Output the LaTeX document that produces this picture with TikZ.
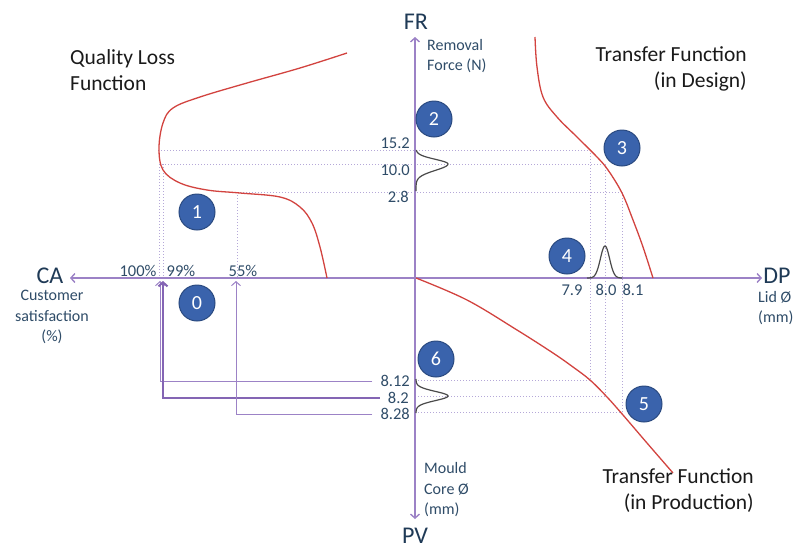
\documentclass[tikz,border=0pt]{standalone}
\usepackage{fontspec}
\setmainfont{Carlito}
\usetikzlibrary{arrows.meta}
\definecolor{axiscol}{HTML}{9C82C6}
\definecolor{axisdk}{HTML}{8465B4}
\definecolor{guidecol}{HTML}{B5A8D8}
\definecolor{curvecol}{HTML}{D2433F}
\definecolor{labcol}{HTML}{2F4C68}
\definecolor{axlabcol}{HTML}{1F3A56}
\definecolor{ballcol}{HTML}{3A63AC}
\definecolor{ballrim}{HTML}{2A4A80}
\definecolor{gausscol}{HTML}{4A4A4A}
\definecolor{titlecol}{HTML}{1A1A1A}
\begin{document}
\begin{tikzpicture}[x=1pt,y=-1pt,
  axisline/.style={draw=axiscol,line width=1.4pt},
  barb/.style={-{Straight Barb[length=4pt,width=9pt]}},
  guide/.style={draw=guidecol,line width=0.9pt,dash pattern=on 1pt off 2pt},
  feed/.style={draw=axiscol,line width=1pt},
  feedthick/.style={draw=axisdk,line width=2pt},
  redcurve/.style={draw=curvecol,line width=1.3pt},
  gaussline/.style={draw=gausscol,line width=1.2pt},
  ball/.style={circle,fill=ballcol,draw=ballrim,line width=1pt,minimum size=36pt,inner sep=0pt,text=white,font=\fontsize{20}{20}\selectfont},
  ticklab/.style={text=labcol,inner sep=0pt,font=\fontsize{16.5}{19}\selectfont},
  smalllab/.style={text=labcol,inner sep=0pt,font=\fontsize{16}{20.5}\selectfont},
  axlab/.style={text=axlabcol,inner sep=0pt,font=\fontsize{24}{24}\selectfont},
  title/.style={text=titlecol,inner sep=0pt,font=\fontsize{21.5}{26}\selectfont}
]
\useasboundingbox (0,0) rectangle (793,544);

% axes
\coordinate (O) at (415,278);
\coordinate (FRtip) at (415,37);
\coordinate (PVtip) at (415,519);
\coordinate (CAtip) at (70,278);
\coordinate (DPtip) at (762,278);

% dotted guides
\draw[guide] (158,150) -- (590,150);
\draw[guide] (162,164) -- (605,164);
\draw[guide] (237,192) -- (622,192);
\draw[guide] (159,164) -- (159,278);
\draw[guide] (163,164) -- (163,278);
\draw[guide] (237,192) -- (237,278);
\draw[guide] (590,150) -- (590,380);
\draw[guide] (605,164) -- (605,396);
\draw[guide] (622,192) -- (622,412);
\draw[guide] (415,380) -- (590,380);
\draw[guide] (415,396) -- (605,396);
\draw[guide] (415,412) -- (622,412);

% axes lines
\draw[axisline,barb] (O) -- (FRtip);
\draw[axisline,barb] (O) -- (PVtip);
\draw[axisline,barb] (O) -- (CAtip);
\draw[axisline,barb] (O) -- (DPtip);

% axis labels
\node[axlab] (FR) at (416,22) {FR};
\node[axlab] (PV) at (415,536) {PV};
\node[axlab] (CA) at (50,276) {CA};
\node[axlab] (DP) at (777,276) {DP};

\node[smalllab,align=left,anchor=west] (rf) at (427,56) {Removal\\Force (N)};
\node[smalllab,align=center] (cs) at (52,317) {Customer\\satisfaction\\(\%)};
\node[smalllab,align=left,anchor=west] (lid) at (758,308) {Lid Ø\\(mm)};
\node[smalllab,align=left,anchor=west] (mc) at (424,490) {Mould\\Core Ø\\(mm)};

% titles
\node[title,align=left,anchor=west] (qlf) at (70,70) {Quality Loss\\Function};
\node[title,align=right,anchor=east] (tfd) at (747,69) {Transfer Function\\(in Design)};

% tick labels
\node[ticklab,anchor=east] (t152) at (410,143) {15.2};
\node[ticklab,anchor=east] (t100) at (410,170) {10.0};
\node[ticklab,anchor=east] (t28) at (409,197) {2.8};
\node[ticklab] (p100) at (138,271) {100\%};
\node[ticklab] (p99) at (181,271) {99\%};
\node[ticklab] (p55) at (243,271) {55\%};
\node[ticklab] (d79) at (572,290) {7.9};
\node[ticklab] (d80) at (606,290) {8.0};
\node[ticklab] (d81) at (633,290) {8.1};
\node[ticklab,anchor=east] (m812) at (410,381) {8.12};
\node[ticklab,anchor=east] (m82) at (409,398) {8.2};
\node[ticklab,anchor=east] (m828) at (410,414) {8.28};

% feedback connectors to CA axis
\coordinate (a100) at (160,281);
\coordinate (a99) at (163,281);
\coordinate (a55) at (236,281);
\draw[feed,barb,shorten <=8pt] (m812.west) -| (a100);
\draw[feedthick,barb,shorten <=8pt] (m82.west) -| (a99);
\draw[feed,barb,shorten <=8pt] (m828.west) -| (a55);

% red curves
\draw[redcurve] plot[smooth,tension=0.6] coordinates {(347,53) (300,68) (247,83) (200,97) (173,108) (163,123) (159,148) (163,170) (180,183) (207,190) (240,193) (280,197) (300,207) (312,223) (320,247) (327,278)};
\draw[redcurve] plot[smooth,tension=0.6] coordinates {(535,37) (537,67) (543,97) (557,117) (577,137) (597,157) (608,170) (622,193) (633,220) (643,247) (653,278)};
\draw[redcurve] plot[smooth,tension=0.6] coordinates {(416,278) (467,300) (517,330) (553,353) (573,367) (590,380) (607,397) (623,415) (647,443) (673,473)};

\node[title,align=right,anchor=east] (tfp) at (754,491) {Transfer Function\\(in Production)};

% gaussians
\draw[gaussline] plot[domain=-14:0,samples=30,variable=\t] ({416+32*exp(-(\t/6.6)^2)},{164+\t})
  -- plot[domain=0:27,samples=40,variable=\t] ({416+32*exp(-(\t/9)^2)},{164+\t});
\draw[gaussline] plot[domain=-17:17,samples=50,variable=\t] ({416+32*exp(-(\t/6.5)^2)},{396+\t});
\draw[gaussline] plot[domain=-18:17,samples=50,variable=\t] ({605+\t},{278-32*exp(-(\t/6.5)^2)});

% numbered balls
\node[ball] (c0) at (197,303) {0};
\node[ball] (c1) at (197,212) {1};
\node[ball] (c2) at (434,119) {2};
\node[ball] (c3) at (622,148) {3};
\node[ball] (c4) at (567,256) {4};
\node[ball] (c5) at (644,404) {5};
\node[ball] (c6) at (436,359) {6};
\end{tikzpicture}
\end{document}
